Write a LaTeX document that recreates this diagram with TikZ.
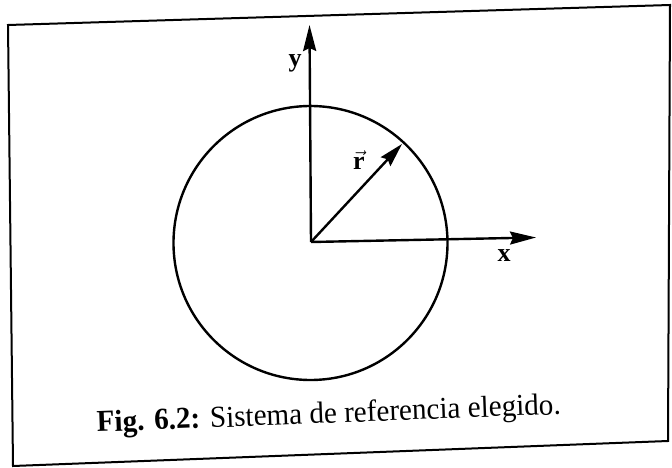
\documentclass[tikz,border=0pt]{standalone}
\usepackage{amsmath}
\usepackage{graphicx}
\usepackage{fontspec}
\setmainfont{Liberation Serif}
\usetikzlibrary{arrows.meta}
\begin{document}
\begin{tikzpicture}[x=1pt,y=-1pt,
  axis/.style={line width=2.4pt,-{Stealth[length=26pt,width=13pt,inset=3pt]}},
  frameline/.style={line width=2pt},
  axlabel/.style={font=\fontsize{26}{30}\selectfont\bfseries,inner sep=0pt},
  caption/.style={font=\fontsize{30.4}{36}\selectfont,inner sep=0pt,anchor=base west}]
\useasboundingbox (0,0) rectangle (672,468);
\fill[white] (0,0) rectangle (672,468);
% frame
\coordinate (tl) at (8,25);
\coordinate (tr) at (670,5);
\coordinate (br) at (668,441);
\coordinate (bl) at (13,466);
\draw[frameline,line join=miter] (tl) -- (tr) -- (br) -- (bl) -- cycle;
% circle
\coordinate (cc) at (310.5,243);
\draw[line width=2.4pt] (cc) circle[radius=137];
% axes
\coordinate (O) at (311,242);
\coordinate (ytip) at (309.5,25);
\coordinate (xtip) at (536,237.5);
\coordinate (rtip) at (402,144);
\draw[axis] (O) -- (ytip);
\draw[axis] (O) -- (xtip);
\draw[axis,-{Stealth[length=24pt,width=13pt,inset=3pt]}] (O) -- (rtip);
\node[axlabel] (ylab) at (295,63) {y};
\node[axlabel] (xlab) at (504,256) {x};
\node[axlabel,font=\fontsize{26}{30}\selectfont] (rlab) at (359,160) {$\vec{\text{\bfseries r}}$};
% caption
\node[caption,rotate=2.2] (cap) at (97,432) {\scalebox{0.958}[1]{\textbf{Fig. 6.2:} Sistema de referencia elegido.}};
\end{tikzpicture}
\end{document}
